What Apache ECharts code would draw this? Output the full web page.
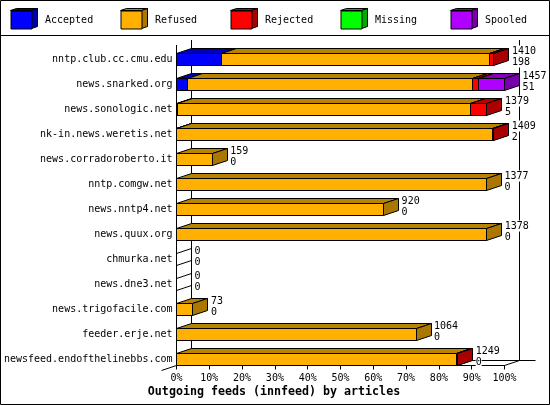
<!DOCTYPE html>
<html>
<head>
<meta charset="utf-8">
<style>html,body{margin:0;padding:0;background:#fff}#c{width:550px;height:405px}</style>
<script src="https://cdn.jsdelivr.net/npm/echarts@6/dist/echarts.min.js"></script>
</head>
<body>
<div id="c"></div>
<script>
const categories = ['nntp.club.cc.cmu.edu','news.snarked.org','news.sonologic.net','nk-in.news.weretis.net','news.corradoroberto.it','nntp.comgw.net','news.nntp4.net','news.quux.org','chmurka.net','news.dne3.net','news.trigofacile.com','feeder.erje.net','newsfeed.endofthelinebbs.com'];
const accepted = [198,51,5,2,0,0,0,0,0,0,0,0,0];
const refused  = [1192,1266,1299,1403,159,1377,920,1378,0,0,73,1064,1245];
const rejected = [20,26,75,4,0,0,0,0,0,0,0,0,4];
const missing  = [0,0,0,0,0,0,0,0,0,0,0,0,0];
const spooled  = [0,114,0,0,0,0,0,0,0,0,0,0,0];
const totals   = [1410,1457,1379,1409,159,1377,920,1378,0,0,73,1064,1249];
const seriesNames = ['Accepted','Refused','Rejected','Missing','Spooled'];
const seriesValues = [accepted,refused,rejected,missing,spooled];
const frontColors = ['#0000ff','#ffb000','#ff0000','#00ff00','#b000ff'];
const topColors   = ['#0000b8','#b88400','#b80000','#00b800','#8400b8'];
const sideColors  = ['#0000aa','#aa7700','#aa0000','#00aa00','#7700aa'];
const titleText = 'Outgoing feeds (innfeed) by articles';

const MONO = '"DejaVu Sans Mono", monospace';
const DX = 15, DY = 5, HALF = 6;
const maxTotal = Math.max(...totals);
const pct = v => v / maxTotal * 100;
const stroke = {stroke:'#000', lineWidth:1};

function faces(x0, x1, yT, yB, iFront, iTop, iSide) {
  return [
    {type:'polygon', shape:{points:[[x0,yT],[x1,yT],[x1+DX,yT-DY],[x0+DX,yT-DY]]}, style:{fill:iTop, ...stroke}},
    {type:'polygon', shape:{points:[[x1,yT],[x1+DX,yT-DY],[x1+DX,yB-DY],[x1,yB]]}, style:{fill:iSide, ...stroke}},
    {type:'rect', shape:{x:x0,y:yT,width:x1-x0,height:yB-yT}, style:{fill:iFront, ...stroke}}
  ];
}
const snap = v => Math.round(v - 0.5) + 0.5;

const running = categories.map(() => 0);
const barSeries = seriesNames.map((name, s) => {
  const data = categories.map((c, i) => {
    const start = running[i];
    running[i] += seriesValues[s][i];
    return [pct(start), pct(running[i]), i];
  });
  return {
    type:'custom', name, data, z:3, clip:false, silent:true,
    encode:{x:[0,1], y:2},
    itemStyle:{color:frontColors[s]},
    renderItem(params, api) {
      const a = api.value(0), b = api.value(1), i = api.value(2);
      if (b <= a) return null;
      const p0 = api.coord([a, i]), p1 = api.coord([b, i]);
      const x0 = snap(p0[0]), x1 = snap(p1[0]), yT = p0[1]-HALF, yB = p0[1]+HALF;
      return {type:'group', children:faces(x0,x1,yT,yB,frontColors[s],topColors[s],sideColors[s])};
    }
  };
});

const frameSeries = {
  type:'custom', name:'frame', data:[[0,0]], z:1, clip:false, silent:true, encode:{x:0,y:1},
  renderItem(params, api) {
    const g = params.coordSys, L = g.x, R = g.x+g.width, T = g.y, F = g.y+g.height-6.5;
    const line = (x1,y1,x2,y2) => ({type:'line', shape:{x1,y1,x2,y2}, style:stroke});
    return {type:'group', children:[
      line(L,T-2,L,F),
      line(L+DX,T-7,L+DX,F-DY),
      line(R+DX,T-7,R+DX,F-DY),
      line(L+DX,F-DY,R+2*DX+1,F-DY),
      line(L-DX,F+DY,L+DX,F-DY),
      line(R,F,R+DX,F-DY)
    ]};
  }
};

const emptySeries = {
  type:'custom', name:'empty', z:2, clip:false, silent:true, encode:{x:0,y:1},
  data: categories.map((c,i)=>[0,i]).filter(d=>totals[d[1]]===0),
  renderItem(params, api) {
    const p = api.coord([api.value(0), api.value(1)]);
    const x = p[0], yT = p[1]-HALF, yB = p[1]+HALF;
    const line = (x1,y1,x2,y2) => ({type:'line', shape:{x1,y1,x2,y2}, style:stroke});
    return {type:'group', children:[line(x,yT,x+DX,yT-DY), line(x,yB,x+DX,yB-DY)]};
  }
};

const labelSeries = {
  type:'custom', name:'labels', z:5, clip:false, silent:true, encode:{x:0,y:1},
  data: categories.map((c,i)=>[pct(totals[i]), i, totals[i], accepted[i]]),
  renderItem(params, api) {
    const p = api.coord([api.value(0), api.value(1)]);
    const x = p[0]+DX+3;
    const txt = (t,y) => ({type:'text', style:{text:String(t), x, y, fill:'#000', font:'10px '+MONO,
      textVerticalAlign:'middle', textAlign:'left', backgroundColor:'#fff', lineHeight:11}});
    return {type:'group', children:[txt(api.value(2), p[1]-8.5), txt(api.value(3), p[1]+2.5)]};
  }
};

const legendLeft = i => 10 + 110*i;
const legendGraphics = [];
seriesNames.forEach((n,i) => {
  const x = legendLeft(i)+0.5, y = 10.5, w = 21, h = 18, d = 6, e = 2;
  legendGraphics.push(
    {type:'polygon', silent:true, shape:{points:[[x,y],[x+w,y],[x+w+d,y-e],[x+d,y-e]]}, style:{fill:topColors[i], ...stroke}},
    {type:'polygon', silent:true, shape:{points:[[x+w,y],[x+w+d,y-e],[x+w+d,y+h-e],[x+w,y+h]]}, style:{fill:sideColors[i], ...stroke}}
  );
});

const chart = echarts.init(document.getElementById('c'), null, {renderer:'canvas', width:550, height:405});
chart.setOption({
  animation:false,
  backgroundColor:'#fff',
  title:{text:titleText, left:274, top:386, textAlign:'center', padding:0,
    textStyle:{fontFamily:MONO, fontWeight:'bold', fontSize:11.65, color:'#000', lineHeight:12}},
  legend: seriesNames.map((n,i)=>({
    data:[n], left:legendLeft(i)+0.5, top:10.5, padding:0, orient:'horizontal', selectedMode:false,
    itemWidth:21, itemHeight:18, icon:'rect',
    itemStyle:{borderColor:'#000', borderWidth:1},
    textStyle:{fontFamily:MONO, fontSize:10, color:'#000', padding:[1,0,0,8]}
  })),
  grid:{left:176.5, top:47, width:328, height:325, containLabel:false},
  xAxis:{type:'value', min:0, max:100, interval:10, position:'bottom', offset:-6.5,
    axisLine:{show:true, onZero:false, lineStyle:{color:'#000',width:1}},
    axisTick:{show:true, length:4, lineStyle:{color:'#000',width:1}},
    splitLine:{show:false},
    axisLabel:{margin:8, color:'#000', fontFamily:MONO, fontSize:10, formatter:'{value}%', hideOverlap:false}},
  yAxis:{type:'category', inverse:true, data:categories,
    axisLine:{show:false}, axisTick:{show:false}, splitLine:{show:false},
    axisLabel:{margin:4, color:'#000', fontFamily:MONO, fontSize:10, interval:0}},
  graphic:[
    {type:'rect', silent:true, z:10, shape:{x:0.5,y:0.5,width:549,height:404}, style:{fill:'none',...stroke}},
    {type:'line', silent:true, z:10, shape:{x1:0,y1:35.5,x2:550,y2:35.5}, style:stroke},
    ...legendGraphics
  ],
  series:[frameSeries, emptySeries, ...barSeries, labelSeries]
});
</script>
</body>
</html>
